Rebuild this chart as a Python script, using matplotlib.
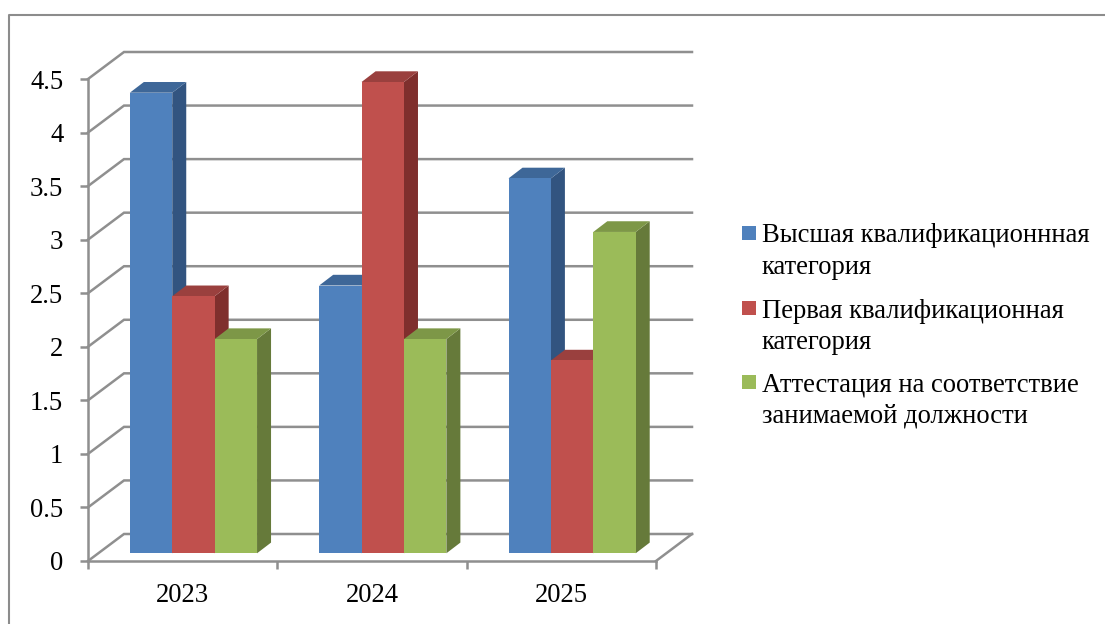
import matplotlib
matplotlib.use('Agg')
import matplotlib.pyplot as plt
from matplotlib.patches import Polygon, Rectangle

plt.rcParams['font.family'] = ['Liberation Serif', 'DejaVu Serif']

years = ['2023', '2024', '2025']
high_cat = [4.3, 2.5, 3.5]
first_cat = [2.4, 4.4, 1.8]
attest = [2, 2, 3]
y_ticks = [0, 0.5, 1, 1.5, 2, 2.5, 3, 3.5, 4, 4.5]
y_labels = ['0', '0.5', '1', '1.5', '2', '2.5', '3', '3.5', '4', '4.5']
legend_labels = ['Высшая квалификационнная\nкатегория',
                 'Первая квалификационная\nкатегория',
                 'Аттестация на соответствие\nзанимаемой должности']

front_cols = ['#4F81BD', '#C0504D', '#9BBB59']
side_cols = ['#325480', '#7F2F2D', '#667A3A']
top_cols = ['#3E6798', '#9A403E', '#7D9747']
GRAY = '#8F8F8F'
W, H = 1105, 624

fig = plt.figure(figsize=(W / 100, H / 100), dpi=100)
ax = fig.add_axes([88 / W, 1 - 561 / H, 568 / W, 482 / H])
ax.set_xlim(0, 3)
ax.set_ylim(0, 4.5)
ax.patch.set_visible(False)

# depth of the fake 3d box, in data units
wall_dx = 36 / (568 / 3)
wall_dy = 27 / (482 / 4.5)
bar_dx = 14 / (568 / 3)
bar_dy = 10.7 / (482 / 4.5)
base_dx = 0.054
base_dy = 0.072
bar_w = 42.4 / (568 / 3)
bar_gap = 0.221 - base_dx

# walls
for v in y_ticks:
    ax.plot([0, wall_dx, 3 + wall_dx], [v, v + wall_dy, v + wall_dy], color=GRAY,
            lw=1.8, clip_on=False, zorder=1, solid_joinstyle='miter')
ax.plot([3, 3 + wall_dx], [0, wall_dy], color=GRAY, lw=1.8, clip_on=False, zorder=1)


def draw_bar(x, val, i):
    x0 = x + base_dx
    x1 = x0 + bar_w
    y0 = base_dy
    y1 = base_dy + val
    z = 3 + i
    ax.add_patch(Polygon([(x1, y0), (x1 + bar_dx, y0 + bar_dy), (x1 + bar_dx, y1 + bar_dy), (x1, y1)],
                         fc=side_cols[i], ec='none', clip_on=False, zorder=z))
    ax.add_patch(Polygon([(x0, y1), (x1, y1), (x1 + bar_dx, y1 + bar_dy), (x0 + bar_dx, y1 + bar_dy)],
                         fc=top_cols[i], ec='none', clip_on=False, zorder=z))
    ax.add_patch(Rectangle((x0, y0), bar_w, val, fc=front_cols[i], ec='none', clip_on=False, zorder=z))


for k in range(3):
    for i, vals in enumerate([high_cat, first_cat, attest]):
        draw_bar(k + bar_gap + i * bar_w, vals[k], i)

for s in ['top', 'right']:
    ax.spines[s].set_visible(False)
for s in ['left', 'bottom']:
    ax.spines[s].set_color(GRAY)
    ax.spines[s].set_linewidth(1.8)

ax.set_yticks(y_ticks)
ax.set_yticklabels(y_labels)
ax.set_xticks([0, 1, 2, 3])
ax.set_xticklabels([])
ax.set_xticks([0.5, 1.5, 2.5], minor=True)
ax.set_xticklabels(years, minor=True)
ax.tick_params(axis='y', length=5.8, width=1.8, color=GRAY, pad=12, labelsize=19.2, labelcolor='black')
ax.tick_params(axis='x', which='major', length=5.8, width=1.8, color=GRAY)
ax.tick_params(axis='x', which='minor', length=0, pad=16, labelsize=19.2, labelcolor='black')

# legend, written out by hand so the marker sits on the first line
legend_y = [233, 308, 382]
for lab, yy, col in zip(legend_labels, legend_y, front_cols):
    fig.add_artist(Rectangle((742 / W, 1 - (yy + 7) / H), 14 / W, 14 / H, fc=col, ec='none',
                             transform=fig.transFigure))
    fig.text(762 / W, 1 - (yy - 9.5) / H, lab, fontsize=19.2, va='top', ha='left', color='black', linespacing=1.34)

# outer chart border, cut off by the picture on two sides
fig.add_artist(plt.Line2D([9 / W, 9 / W, 1], [0, 1 - 15 / H, 1 - 15 / H], color='#8C8C8C', lw=1.5,
                          transform=fig.transFigure))

fig.savefig('out.png', dpi=100)
